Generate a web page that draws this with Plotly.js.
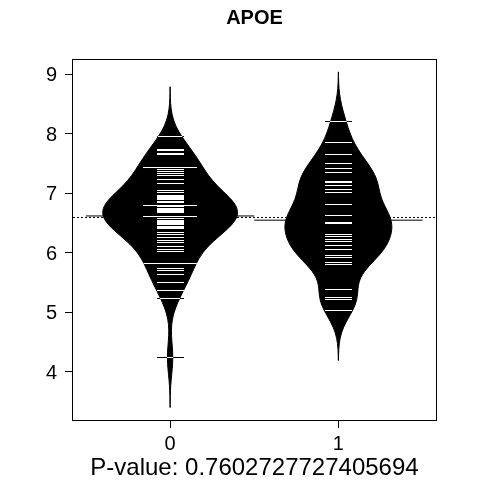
<!DOCTYPE html>
<html>
<head>
<meta charset="utf-8">
<script src="https://cdn.plot.ly/plotly-3.0.1.min.js"></script>
<style>
  html, body { margin: 0; padding: 0; background: #fff; }
  #chart { width: 480px; height: 480px; }
  /* beanlines: white on the bean, black where they stick out of it */
  .scatterlayer .trace:last-child .js-line {
    mix-blend-mode: difference;
    shape-rendering: crispEdges;
  }
</style>
</head>
<body>
<div id="chart"></div>
<script>
// Группы и значения экспрессии APOE
const groups = [0, 1];
const apoe0 = [
    7.95, 7.74, 7.72, 7.67, 7.645, 7.43, 7.43, 7.40, 7.37, 7.34, 7.30,
    7.24, 7.17, 7.04, 7.01, 6.97, 6.95, 6.93, 6.91, 6.89, 6.87, 6.85,
    6.79, 6.79, 6.77, 6.75, 6.73, 6.71, 6.69, 6.68, 6.61, 6.61,
    6.57, 6.55, 6.53, 6.51, 6.49, 6.47, 6.45, 6.43, 6.41, 6.34, 6.31,
    6.26, 6.21, 6.17, 6.10, 6.06, 6.02, 5.82, 5.82, 5.74, 5.71,
    5.63, 5.50, 5.37, 5.24, 4.24
];
const apoe1 = [
    8.20, 7.85, 7.66, 7.50, 7.41, 7.35, 7.195, 7.18, 7.13, 7.07, 7.02,
    6.82, 6.65, 6.64, 6.62, 6.60, 6.59, 6.51, 6.49, 6.31, 6.28, 6.23,
    6.19, 6.13, 6.06, 5.95, 5.92, 5.84, 5.81, 5.39, 5.25, 5.22, 5.03
];
const pValue = '0.7602727727405694';
const tickVals = [4, 5, 6, 7, 8, 9];

const samples = [apoe0, apoe1];
const bw = 0.28;      // общая ширина окна для всех бобов
const lineLen = 0.16; // длина одной линии наблюдения

const mean = arr => arr.reduce((s, v) => s + v, 0) / arr.length;

// Бобы
const beans = samples.map((vals, i) => ({
    type: 'violin',
    y: vals,
    x0: groups[i],
    bandwidth: bw,
    spanmode: 'manual',
    span: [Math.min(...vals) - 3 * bw, Math.max(...vals) + 3 * bw],
    scalegroup: 'beans',
    scalemode: 'width',
    points: false,
    box: { visible: false },
    meanline: { visible: false },
    fillcolor: 'black',
    line: { color: 'black', width: 1 },
    hoverinfo: 'skip',
    showlegend: false
}));

// Линии наблюдений (повторы -> длиннее)
const lx = [], ly = [];
samples.forEach((vals, i) => {
    const counts = {};
    vals.forEach(v => { counts[v] = (counts[v] || 0) + 1; });
    Object.keys(counts).forEach(k => {
        const half = lineLen * counts[k] / 2;
        lx.push(groups[i] - half, groups[i] + half, null);
        ly.push(+k, +k, null);
    });
});
const beanLines = {
    type: 'scatter',
    mode: 'lines',
    x: lx,
    y: ly,
    line: { color: 'white', width: 1 },
    hoverinfo: 'skip',
    showlegend: false
};

// Средние по бобам и общее среднее
const shapes = samples.map((vals, i) => ({
    type: 'line', layer: 'below', xref: 'x', yref: 'y',
    x0: groups[i] - 0.5, x1: groups[i] + 0.5,
    y0: mean(vals), y1: mean(vals),
    line: { color: 'black', width: 1 }
}));
const overall = mean(apoe0.concat(apoe1));
shapes.push({
    type: 'line', layer: 'below', xref: 'paper', yref: 'y',
    x0: 0, x1: 1, y0: overall, y1: overall,
    line: { color: 'black', width: 1, dash: '2px,2px' }
});

const axisStyle = {
    showline: true,
    mirror: true,
    linecolor: 'black',
    linewidth: 1,
    ticks: 'outside',
    ticklen: 7,
    tickwidth: 1,
    tickcolor: 'black',
    showgrid: false,
    zeroline: false
};

const layout = {
    width: 480,
    height: 480,
    paper_bgcolor: 'white',
    plot_bgcolor: 'white',
    font: { family: 'Liberation Sans, Arial, sans-serif', size: 20, color: 'black' },
    margin: { t: 60, r: 44, b: 60, l: 73 },
    showlegend: false,
    hovermode: false,
    violinmode: 'overlay',
    violingap: 0.2,
    violingroupgap: 0,
    title: {
        text: '<b>APOE</b>',
        font: { size: 20 },
        x: 0.5, xref: 'paper', xanchor: 'center',
        y: 0.965, yref: 'container', yanchor: 'middle'
    },
    xaxis: {
        ...axisStyle,
        type: 'linear',
        range: [-0.577, 1.58],
        tickvals: groups,
        ticktext: groups.map(String),
        ticklabelstandoff: -2,
        title: { text: 'P-value: ' + pValue, standoff: 4 }
    },
    yaxis: {
        ...axisStyle,
        range: [3.19, 9.24],
        tickvals: tickVals,
        ticklabelstandoff: 4
    },
    shapes: shapes
};

Plotly.newPlot('chart', beans.concat([beanLines]), layout, { displayModeBar: false, staticPlot: true })
    .then(gd => {
        // без обрезки группа не изолирована, и линии смешиваются с белым фоном
        gd.querySelectorAll('.cartesianlayer [clip-path]').forEach(el => el.removeAttribute('clip-path'));
    });
</script>
</body>
</html>
